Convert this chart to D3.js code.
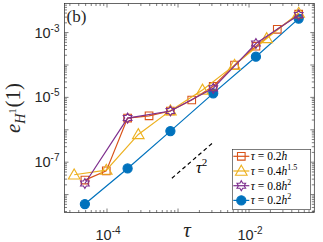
<!DOCTYPE html>
<html>
<head>
<meta charset="utf-8">
<script src="https://cdnjs.cloudflare.com/ajax/libs/d3/7.8.5/d3.min.js"></script>
<style>
  body { margin: 0; background: #fff; }
  svg { display: block; }
</style>
</head>
<body>
<script>
// values
var tauRed    = [4.88e-5, 9.77e-5, 1.95e-4, 3.91e-4, 7.81e-4, 1.56e-3, 3.13e-3, 6.25e-3, 1.25e-2, 2.5e-2, 5e-2];
var errRed    = [2.8e-8, 5.4e-8, 2.3e-6, 2.7e-6, 3.8e-6, 8.3e-6, 2.2e-5, 9.9e-5, 3.8e-4, 1.26e-3, 3.7e-3];
var tauYellow = [3.45e-5, 9.77e-5, 2.76e-4, 7.81e-4, 2.21e-3, 6.25e-3, 1.77e-2, 5e-2];
var errYellow = [4.1e-8, 5.7e-8, 7.2e-7, 3.9e-6, 1.7e-5, 9.9e-5, 6.6e-4, 4.0e-3];
var tauPurple = [4.88e-5, 1.95e-4, 7.81e-4, 3.13e-3, 1.25e-2, 5e-2];
var errPurple = [2.2e-8, 2.3e-6, 3.8e-6, 1.9e-5, 4.6e-4, 3.5e-3];
var tauBlue   = [4.88e-5, 1.95e-4, 7.81e-4, 3.13e-3, 1.25e-2, 5e-2];
var errBlue   = [5.1e-9, 6.4e-8, 9.1e-7, 1.33e-5, 1.8e-4, 2.7e-3];
var refTau = [8.2e-4, 3.1e-3];
var refErr = [3.2e-8, 4.0e-7];

var legendCoef = ["0.2", "0.4", "0.8", "0.2"];
var legendExp  = ["", "1.5", "2", "2"];
var xTickVals = [1e-4, 1e-2];
var yTickVals = [1e-7, 1e-5, 1e-3];

var w = 323, h = 242;
var pL = 64.5, pR = 314.3, pT = 3.5, pB = 212.5;

var x = d3.scaleLog().domain([2.52e-5, 0.083]).range([pL, pR]);
var y = d3.scaleLog().domain([2.8e-9, 7.9e-3]).range([pB, pT]);

var svg = d3.select("body").append("svg")
    .attr("width", w)
    .attr("height", h);

var axisColor = "#262626";

// minor + major ticks, inside on all four sides
var xAll = x.ticks();
var yAll = y.ticks();
function isMajor(v){ return Math.abs(Math.log10(v) - Math.round(Math.log10(v))) < 1e-6; }

var tg = svg.append("g").attr("stroke", axisColor).attr("stroke-width", 0.6);
xAll.forEach(function(v){
    var len = isMajor(v) ? 4 : 2.5;
    tg.append("line").attr("x1", x(v)).attr("x2", x(v)).attr("y1", pB).attr("y2", pB - len);
    tg.append("line").attr("x1", x(v)).attr("x2", x(v)).attr("y1", pT).attr("y2", pT + len);
});
yAll.forEach(function(v){
    var len = isMajor(v) ? 4 : 2.5;
    tg.append("line").attr("y1", y(v)).attr("y2", y(v)).attr("x1", pL).attr("x2", pL + len);
    tg.append("line").attr("y1", y(v)).attr("y2", y(v)).attr("x1", pR).attr("x2", pR - len);
});

svg.append("rect")
    .attr("x", pL).attr("y", pT)
    .attr("width", pR - pL).attr("height", pB - pT)
    .attr("fill", "none")
    .attr("stroke", axisColor)
    .attr("stroke-width", 0.7);

// tick labels
function powLabel(g, v, anchor){
    var e = Math.round(Math.log10(v));
    var t = g.append("text")
        .attr("font-family", "Liberation Sans, Arial, sans-serif")
        .attr("font-size", 14.5)
        .attr("fill", axisColor)
        .attr("text-anchor", anchor);
    t.append("tspan").text("10");
    t.append("tspan").attr("font-size", 10).attr("dy", -6).text("-" + Math.abs(e));
    return t;
}
xTickVals.forEach(function(v){
    powLabel(svg, v, "middle").attr("x", x(v) + 1).attr("y", pB + 27);
});
yTickVals.forEach(function(v){
    powLabel(svg, v, "end").attr("x", pL - 5).attr("y", y(v) + 5);
});

// axis labels
svg.append("text")
    .attr("x", 187).attr("y", 236.5)
    .attr("text-anchor", "middle")
    .attr("font-family", "Liberation Serif, Times New Roman, serif")
    .attr("font-style", "italic")
    .attr("font-size", 21)
    .attr("fill", axisColor)
    .text("τ");

var yl = svg.append("text")
    .attr("transform", "translate(20," + ((pT + pB) / 2) + ") rotate(-90)")
    .attr("text-anchor", "middle")
    .attr("font-family", "Liberation Serif, Times New Roman, serif")
    .attr("font-size", 21)
    .attr("fill", axisColor);
yl.append("tspan").attr("font-style", "italic").text("e");
yl.append("tspan").attr("font-style", "italic").attr("font-size", 14).attr("dy", 5).text("H");
yl.append("tspan").attr("font-size", 10).attr("dy", -9).text("1");
yl.append("tspan").attr("dy", 4).attr("dx", 1).text("(1)");

svg.append("text")
    .attr("x", pL + 2).attr("y", 22)
    .attr("font-family", "Liberation Serif, Times New Roman, serif")
    .attr("font-size", 17)
    .attr("fill", axisColor)
    .text("(b)");

// reference slope
svg.append("line")
    .attr("x1", x(refTau[0])).attr("y1", y(refErr[0]))
    .attr("x2", x(refTau[1])).attr("y2", y(refErr[1]))
    .attr("stroke", "#000")
    .attr("stroke-width", 1.2)
    .attr("stroke-dasharray", "4,3");
var rl = svg.append("text")
    .attr("x", x(refTau[1]) - 17).attr("y", y(refErr[1]) + 30)
    .attr("font-family", "Liberation Serif, Times New Roman, serif")
    .attr("font-size", 16)
    .attr("fill", "#000");
rl.append("tspan").attr("font-style", "italic").text("τ");
rl.append("tspan").attr("font-size", 11).attr("dy", -7).text("2");

// markers
function hexagram(r){
    var pts = [];
    for (var i = 0; i < 12; i++){
        var rr = (i % 2 === 0) ? r : r / Math.sqrt(3);
        var a = -Math.PI / 2 + i * Math.PI / 6;
        pts.push([rr * Math.cos(a), rr * Math.sin(a)]);
    }
    return "M" + pts.map(function(p){ return p[0].toFixed(2) + "," + p[1].toFixed(2); }).join("L") + "Z";
}

var series = [
    {tau: tauBlue,   err: errBlue,   color: "#0072BD", marker: "circle"},
    {tau: tauRed,    err: errRed,    color: "#D95319", marker: "square"},
    {tau: tauYellow, err: errYellow, color: "#EDB120", marker: "triangle"},
    {tau: tauPurple, err: errPurple, color: "#7E2F8E", marker: "star"}
];

function markerPath(m){
    if (m === "circle") return d3.symbol(d3.symbolCircle, 66)();
    if (m === "square") return d3.symbol(d3.symbolSquare, 58)();
    if (m === "triangle") return "M0,-5.8L5.8,4.2L-5.8,4.2Z";
    return hexagram(5);
}

var line = d3.line()
    .x(function(d){ return x(d[0]); })
    .y(function(d){ return y(d[1]); });

series.forEach(function(s){
    var pts = s.tau.map(function(t, i){ return [t, s.err[i]]; });
    svg.append("path")
        .attr("d", line(pts))
        .attr("fill", "none")
        .attr("stroke", s.color)
        .attr("stroke-width", 1.2);
    svg.selectAll(null)
        .data(pts)
        .enter()
        .append("path")
        .attr("transform", function(d){ return "translate(" + x(d[0]) + "," + y(d[1]) + ")"; })
        .attr("d", markerPath(s.marker))
        .attr("fill", s.marker === "circle" ? s.color : "none")
        .attr("stroke", s.color)
        .attr("stroke-width", 1.1);
});

// legend
var lx = 232.3, ly = 149.3, lw = 78.4, lh = 60;
svg.append("rect")
    .attr("x", lx).attr("y", ly)
    .attr("width", lw).attr("height", lh)
    .attr("fill", "#fff")
    .attr("stroke", axisColor)
    .attr("stroke-width", 0.6);

var legendOrder = [1, 2, 3, 0];
legendOrder.forEach(function(si, i){
    var s = series[si];
    var cy = ly + 7 + i * 14.7;
    svg.append("line")
        .attr("x1", lx + 1).attr("x2", lx + 17)
        .attr("y1", cy).attr("y2", cy)
        .attr("stroke", s.color).attr("stroke-width", 1.2);
    svg.append("path")
        .attr("transform", "translate(" + (lx + 9) + "," + cy + ")")
        .attr("d", markerPath(s.marker))
        .attr("fill", s.marker === "circle" ? s.color : "none")
        .attr("stroke", s.color)
        .attr("stroke-width", 1.1);
    var t = svg.append("text")
        .attr("x", lx + 18.5).attr("y", cy + 3.8)
        .attr("font-family", "Liberation Serif, Times New Roman, serif")
        .attr("font-size", 11.5)
        .attr("fill", "#000");
    t.append("tspan").attr("font-style", "italic").text("τ");
    t.append("tspan").text(" = " + legendCoef[i]);
    t.append("tspan").attr("font-style", "italic").text("h");
    if (legendExp[i]) {
        t.append("tspan").attr("font-size", 8).attr("dy", -5).text(legendExp[i]);
    }
});
</script>
</body>
</html>
